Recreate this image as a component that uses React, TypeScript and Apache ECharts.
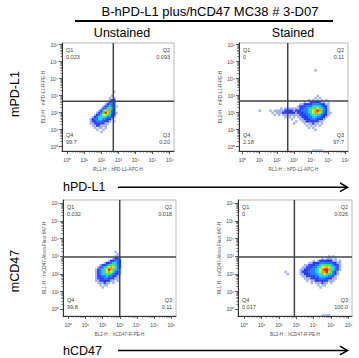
import React, { useEffect, useRef } from "react";
import * as echarts from "echarts";

const TITLE = "B-hPD-L1 plus/hCD47 MC38 # 3-D07";
const COLUMN_TITLES = ["Unstained", "Stained"];
const ROW_MARKERS = ["mPD-L1", "mCD47"];
const ROW_STAINS = ["hPD-L1", "hCD47"];
const X_AXIS_NAMES = ["RL1-H :: hPD-L1-APC-H", "BL2-H :: hCD47-R-PE-H"];
const Y_AXIS_NAMES = ["BL2-H :: mPD-L1-R-PE-H", "RL1-H :: mCD47-Alexa Fluor 647-H"];
const DECADES = [0, 1, 2, 3, 4, 5, 6];
const DECADE_LABELS = ["10⁰", "10¹", "10²", "10³", "10⁴", "10⁵", "10⁶"];
const QUADRANT_NAMES = ["Q1", "Q2", "Q3", "Q4"];
const QUADRANT_PCT = [
  ["0.023", "0.093", "0.20", "99.7"],
  ["0", "0.11", "97.7", "2.18"],
  ["0.032", "0.018", "0.11", "99.8"],
  ["0", "0.026", "100.0", "0.017"],
];
const GATE_X = [2.7, 2.64, 3.0, 2.89];
const GATE_Y = [2.67, 2.69, 2.96, 2.96];

// density cells: [log10 y, first log10 x, levels per 0.125-decade cell ('.' = empty)]
const CELL = 0.125;
type Row = [number, number, string];

const DENSITY_UNSTAINED_PDL1: Row[] = [
  [3.25, 2.75, "1"],
  [3.0, 2.625, "1"],
  [2.875, 2.5, "1.1"],
  [2.75, 2.5, "122"],
  [2.625, 2.375, "1232"],
  [2.5, 2.25, "12332"],
  [2.375, 2.125, "1234321"],
  [2.25, 2.0, "1235542"],
  [2.125, 1.875, "12467532"],
  [2.0, 1.75, "1235864321"],
  [1.875, 1.625, "1234665422"],
  [1.75, 1.5, "12345543321"],
  [1.625, 1.375, "12334433221"],
  [1.5, 1.375, "1223332221.1"],
  [1.375, 1.375, "112222211"],
  [1.25, 1.5, "1122111"],
  [1.125, 1.625, "1.11.1"],
  [1.0, 1.75, "1..1"],
  [0.875, 2.0, "1"],
];

const DENSITY_STAINED_PDL1: Row[] = [
  [4.5, 4.25, "1"],
  [3.0, 4.375, "1"],
  [2.875, 4.25, "1.1"],
  [2.75, 3.875, "1.1.1.1.1"],
  [2.625, 3.625, "1.12222211.1"],
  [2.5, 3.375, "11222233332211"],
  [2.375, 3.25, "122233344443221"],
  [2.25, 2.25, "1.111111122334455654321"],
  [2.125, 1.625, "1.11111222212223334567875321"],
  [2.0, 1.75, "1.11122222212223345677643211"],
  [1.875, 1.875, "1.1.1111111122233455543221"],
  [1.75, 2.5, "1.1.1.11222334433221"],
  [1.625, 2.875, "1...112223332221"],
  [1.5, 3.125, "1..1122222211"],
  [1.375, 3.0, "1....1.11211.1"],
  [1.25, 3.75, "1.1.1.1"],
  [1.125, 3.875, "1.1"],
  [1.0, 4.25, "1"],
  [2.125, 1.0, "1"],
  [-0.22, 4.125, "11111"],
];

const DENSITY_UNSTAINED_CD47: Row[] = [
  [3.25, 2.75, "1"],
  [3.125, 2.875, "1"],
  [3.0, 2.75, "11"],
  [2.875, 2.625, "1221"],
  [2.75, 2.375, "122332"],
  [2.625, 2.125, "12234432"],
  [2.5, 1.875, "1223455432"],
  [2.375, 1.75, "12345676532"],
  [2.25, 1.625, "123456875431"],
  [2.125, 1.625, "123456765321"],
  [2.0, 1.625, "123445543221"],
  [1.875, 1.625, "12233433221"],
  [1.75, 1.625, "12223322211"],
  [1.625, 1.625, "112222211.1"],
  [1.5, 1.75, "111211.1"],
  [1.375, 1.875, "1.11"],
  [1.25, 2.0, "1"],
];

const DENSITY_STAINED_CD47: Row[] = [
  [3.0, 4.875, "1.1"],
  [2.875, 4.5, "1.111.1"],
  [2.75, 4.0, "1.122222211.1"],
  [2.625, 3.75, "112223333332211"],
  [2.5, 3.5, "11222334555543221"],
  [2.375, 3.375, "112223345667654321"],
  [2.25, 3.25, "1122233456788754321"],
  [2.125, 3.25, "122233345677865321"],
  [2.0, 3.25, "112223334556554321"],
  [1.875, 3.375, "1122223344443321"],
  [1.75, 3.5, "111222233322211"],
  [1.625, 3.625, "1.11222222111"],
  [1.5, 3.875, "1.111211.1"],
  [1.375, 4.25, "1.11"],
  [1.25, 4.375, "1"],
  [2.125, 2.375, "1"],
  [2.0, 2.5, "1"],
  [-0.34, 4.5, "1111"],
];

const DENSITIES = [
  DENSITY_UNSTAINED_PDL1,
  DENSITY_STAINED_PDL1,
  DENSITY_UNSTAINED_CD47,
  DENSITY_STAINED_CD47,
];

// ---------- layout / style ----------
const FONT = "'Liberation Sans', Arial, Helvetica, sans-serif";
const PALETTE = ["", "#a3b2ff", "#2438ff", "#1c7dff", "#14cff0", "#3fe26a", "#d8ef1c", "#ff9414", "#ee1010"];
const PANELS = [
  { left: 62, top: 43, width: 112, height: 108, x: [-0.3, 6.25], y: [-0.25, 6.1] },
  { left: 239, top: 43, width: 109, height: 108, x: [-0.2, 6.15], y: [-0.25, 6.1] },
  { left: 63, top: 200, width: 113, height: 116, x: [-0.3, 6.27], y: [-0.38, 6.19] },
  { left: 238, top: 200, width: 114, height: 116, x: [-0.35, 6.2], y: [-0.38, 6.19] },
];

const MINOR: number[] = [];
for (let k = 0; k < 6; k++) for (let m = 2; m <= 9; m++) MINOR.push(k + Math.log10(m));

function expand(rows: Row[]) {
  const out: number[][] = [];
  rows.forEach(([y, x0, s]) => {
    for (let i = 0; i < s.length; i++) {
      const c = s[i];
      if (c === ".") continue;
      out.push([x0 + i * CELL, y, Number(c)]);
    }
  });
  return out;
}

function txt(x: number, y: number, text: string, size: number, align: string, extra: any = {}) {
  return {
    type: "text",
    x,
    y,
    z: 100,
    silent: true,
    ...extra,
    style: {
      text,
      fontSize: size,
      fontFamily: FONT,
      fill: extra.fill || "#000",
      align,
      textAlign: align,
      verticalAlign: "middle",
      textVerticalAlign: "middle",
    },
  };
}

function buildOption() {
  const grid: any[] = [];
  const xAxis: any[] = [];
  const yAxis: any[] = [];
  const series: any[] = [];
  const graphic: any[] = [];

  PANELS.forEach((P, p) => {
    const row = p < 2 ? 0 : 1;
    grid.push({
      left: P.left,
      top: P.top,
      width: P.width,
      height: P.height,
      show: true,
      borderColor: "#b8b8b8",
      borderWidth: 1,
      outerBoundsMode: "none",
      containLabel: false,
    });
    const line = { show: true, onZero: false, lineStyle: { color: "#333", width: 1 } };
    xAxis.push({
      type: "value",
      gridIndex: p,
      min: P.x[0],
      max: P.x[1],
      position: "bottom",
      axisLine: line,
      axisTick: { show: true, customValues: DECADES, length: 3, lineStyle: { color: "#333", width: 0.8 } },
      axisLabel: {
        show: true,
        customValues: DECADES,
        formatter: (v: number) => DECADE_LABELS[Math.round(v)],
        fontSize: 5,
        color: "#444",
        margin: 6,
        fontFamily: FONT,
      },
      splitLine: { show: false },
      name: X_AXIS_NAMES[row],
      nameLocation: "middle",
      nameGap: 16,
      nameTextStyle: { fontSize: 4.6, color: "#555", fontFamily: FONT },
    });
    xAxis.push({
      type: "value",
      gridIndex: p,
      min: P.x[0],
      max: P.x[1],
      position: "bottom",
      axisLine: { show: false, onZero: false },
      axisTick: { show: true, customValues: MINOR, length: 1.6, lineStyle: { color: "#333", width: 0.6 } },
      axisLabel: { show: false },
      splitLine: { show: false },
    });
    yAxis.push({
      type: "value",
      gridIndex: p,
      min: P.y[0],
      max: P.y[1],
      position: "left",
      axisLine: line,
      axisTick: { show: true, customValues: DECADES, length: 3, lineStyle: { color: "#333", width: 0.8 } },
      axisLabel: {
        show: true,
        customValues: DECADES,
        formatter: (v: number) => DECADE_LABELS[Math.round(v)],
        fontSize: 5,
        color: "#444",
        margin: 4,
        fontFamily: FONT,
      },
      splitLine: { show: false },
      name: Y_AXIS_NAMES[row],
      nameLocation: "middle",
      nameGap: 15,
      nameRotate: 90,
      nameTextStyle: { fontSize: 4.6, color: "#555", fontFamily: FONT },
    });
    yAxis.push({
      type: "value",
      gridIndex: p,
      min: P.y[0],
      max: P.y[1],
      position: "left",
      axisLine: { show: false, onZero: false },
      axisTick: { show: true, customValues: MINOR, length: 1.6, lineStyle: { color: "#333", width: 0.6 } },
      axisLabel: { show: false },
      splitLine: { show: false },
    });

    series.push({
      type: "custom",
      xAxisIndex: 2 * p,
      yAxisIndex: 2 * p,
      clip: true,
      silent: true,
      data: expand(DENSITIES[p]),
      renderItem: (_params: any, api: any) => {
        const x = api.value(0);
        const y = api.value(1);
        const lv = api.value(2);
        const a = api.coord([x - CELL / 2, y + CELL / 2]);
        const b = api.coord([x + CELL / 2, y - CELL / 2]);
        return {
          type: "rect",
          shape: { x: a[0], y: a[1], width: b[0] - a[0] + 0.3, height: b[1] - a[1] + 0.3 },
          style: { fill: PALETTE[lv] },
        };
      },
    });
    const gateStyle = { color: "#454545", width: 1.5 };
    series.push({
      type: "line",
      xAxisIndex: 2 * p,
      yAxisIndex: 2 * p,
      silent: true,
      symbol: "none",
      lineStyle: gateStyle,
      data: [
        [GATE_X[p], P.y[0]],
        [GATE_X[p], P.y[1]],
      ],
      z: 5,
    });
    series.push({
      type: "line",
      xAxisIndex: 2 * p,
      yAxisIndex: 2 * p,
      silent: true,
      symbol: "none",
      lineStyle: gateStyle,
      data: [
        [P.x[0], GATE_Y[p]],
        [P.x[1], GATE_Y[p]],
      ],
      z: 5,
    });

    const L = P.left + 4;
    const R = P.left + P.width - 4;
    const T = P.top + 7;
    const B = P.top + P.height - 16;
    const pos = [
      [L, T, "left"],
      [R, T, "right"],
      [R, B, "right"],
      [L, B, "left"],
    ];
    pos.forEach(([x, y, al]: any, q) => {
      graphic.push(txt(x, y, QUADRANT_NAMES[q], 5.5, al, { fill: "#444" }));
      graphic.push(txt(x, y + 7, QUADRANT_PCT[p][q], 5.5, al, { fill: "#444" }));
    });
  });

  graphic.push(txt(210, 11.5, TITLE, 13, "center"));
  graphic.push({
    type: "line",
    z: 100,
    shape: { x1: 75, y1: 21, x2: 333, y2: 21 },
    style: { stroke: "#000", lineWidth: 2 },
  });
  graphic.push(txt(122, 32.5, COLUMN_TITLES[0], 12.5, "center"));
  graphic.push(txt(293, 32.5, COLUMN_TITLES[1], 12.5, "center"));
  graphic.push(txt(15, 94, ROW_MARKERS[0], 12.5, "center", { rotation: Math.PI / 2 }));
  graphic.push(txt(15, 271, ROW_MARKERS[1], 12.5, "center", { rotation: Math.PI / 2 }));

  const arrowYs = [187.3, 350.5];
  arrowYs.forEach((ay, i) => {
    graphic.push(txt(63, ay, ROW_STAINS[i], 12.5, "left"));
    graphic.push({
      type: "line",
      z: 100,
      shape: { x1: 118, y1: ay, x2: 347, y2: ay },
      style: { stroke: "#000", lineWidth: 1.5 },
    });
    graphic.push({
      type: "polyline",
      z: 100,
      shape: { points: [[340, ay - 4.3], [347.5, ay], [340, ay + 4.3]] },
      style: { stroke: "#000", lineWidth: 1.5, fill: "none" },
    });
  });

  return {
    animation: false,
    backgroundColor: "#fff",
    grid,
    xAxis,
    yAxis,
    series,
    graphic,
  };
}

export default function App() {
  const ref = useRef<HTMLDivElement>(null);
  useEffect(() => {
    const chart = echarts.init(ref.current!, null, { renderer: "svg" });
    chart.setOption(buildOption() as any);
    return () => chart.dispose();
  }, []);
  return (
    <div
      ref={ref}
      style={{ position: "fixed", left: 0, top: 0, width: 359, height: 358, background: "#fff" }}
    />
  );
}
